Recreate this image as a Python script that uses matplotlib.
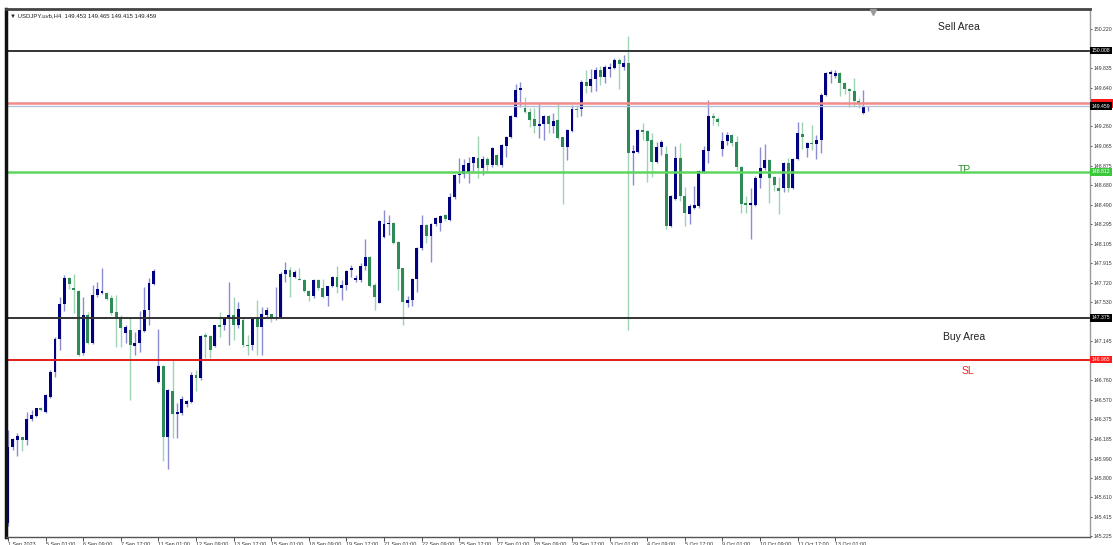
import matplotlib
matplotlib.use("Agg")
import matplotlib.pyplot as plt
import matplotlib.transforms as mtransforms
from matplotlib.patches import Rectangle

plt.rcParams['font.family'] = ['Liberation Sans', 'DejaVu Sans']

# USDJPY H4 candles, 1 Sep 2023 -> 13 Oct 2023
opens = [
    145.35, 146.10, 146.17, 146.20, 146.17, 146.38, 146.41, 146.49, 146.45, 146.60,
    146.84, 147.17, 147.51, 147.77, 147.67, 147.64, 147.03, 147.40, 147.13, 147.60,
    147.62, 147.62, 147.57, 147.43, 147.38, 147.23, 147.26, 147.10, 147.13, 147.25,
    147.45, 147.71, 146.74, 146.90, 146.20, 146.65, 146.43, 146.44, 146.53, 146.55,
    146.81, 146.78, 147.20, 147.20, 147.10, 147.30, 147.30, 147.37, 147.40, 147.30,
    147.35, 147.11, 147.11, 147.37, 147.29, 147.40, 147.41, 147.37, 147.38, 147.81,
    147.85, 147.78, 147.76, 147.75, 147.64, 147.59, 147.75, 147.67, 147.59, 147.69,
    147.78, 147.67, 147.70, 147.85, 147.75, 147.75, 147.89, 147.97, 147.70, 147.52,
    148.17, 148.30, 148.31, 148.12, 147.87, 147.52, 147.55, 147.76, 148.06, 148.29,
    148.18, 148.30, 148.31, 148.39, 148.34, 148.57, 148.78, 148.79, 148.81, 148.90,
    148.95, 148.85, 148.94, 148.88, 148.98, 148.88, 149.07, 149.16, 149.35, 149.62,
    149.44, 149.40, 149.33, 149.26, 149.28, 149.36, 149.26, 149.32, 149.16, 149.06,
    149.22, 149.43, 149.43, 149.70, 149.66, 149.73, 149.82, 149.75, 149.83, 149.84,
    149.91, 149.85, 149.89, 149.00, 149.01, 149.23, 149.22, 149.13, 148.91, 149.06,
    148.99, 148.28, 148.55, 148.95, 148.58, 148.40, 148.46, 148.48, 148.81, 149.02,
    149.36, 149.33, 149.04, 149.12, 149.18, 149.11, 148.86, 148.50, 148.49, 148.49,
    148.75, 148.85, 148.93, 148.76, 148.65, 148.65, 148.90, 148.65, 148.94, 149.19,
    149.05, 149.10, 149.09, 149.13, 149.57, 149.78, 149.76, 149.79, 149.69, 149.63,
    149.61, 149.51, 149.39, 149.453,
]
highs = [
    146.27, 146.19, 146.24, 146.20, 146.45, 146.47, 146.49, 146.50, 146.63, 146.86,
    147.19, 147.58, 147.80, 147.78, 147.81, 147.65, 147.58, 147.43, 147.70, 147.73,
    147.87, 147.63, 147.60, 147.60, 147.40, 147.30, 147.37, 147.24, 147.44, 147.68,
    147.77, 147.86, 147.27, 146.91, 146.67, 146.97, 146.54, 146.61, 146.57, 146.84,
    146.86, 147.21, 147.23, 147.21, 147.30, 147.43, 147.38, 147.73, 147.58, 147.53,
    147.37, 147.21, 147.38, 147.55, 147.48, 147.48, 147.41, 147.68, 147.83, 147.93,
    147.88, 147.85, 147.87, 147.76, 147.65, 147.76, 147.76, 147.76, 147.69, 147.79,
    147.89, 147.75, 147.85, 147.90, 147.80, 147.92, 148.15, 147.98, 147.72, 148.34,
    148.44, 148.39, 148.32, 148.13, 147.87, 147.59, 147.77, 148.07, 148.39, 148.30,
    148.31, 148.37, 148.39, 148.40, 148.60, 148.79, 148.95, 148.94, 148.96, 148.96,
    149.17, 148.97, 148.96, 149.06, 148.99, 149.09, 149.17, 149.37, 149.68, 149.70,
    149.55, 149.44, 149.44, 149.48, 149.37, 149.37, 149.39, 149.49, 149.16, 149.24,
    149.47, 149.47, 149.72, 149.82, 149.83, 149.85, 149.86, 149.87, 149.89, 149.93,
    149.93, 149.96, 150.15, 149.08, 149.24, 149.29, 149.23, 149.20, 149.11, 149.13,
    149.07, 148.59, 149.07, 149.10, 148.66, 148.50, 148.67, 148.83, 149.07, 149.52,
    149.39, 149.35, 149.21, 149.21, 149.19, 149.17, 148.87, 148.58, 148.65, 148.77,
    149.06, 149.09, 148.94, 148.77, 148.76, 148.91, 148.95, 148.95, 149.30, 149.30,
    149.11, 149.27, 149.18, 149.59, 149.80, 149.82, 149.82, 149.80, 149.70, 149.64,
    149.74, 149.54, 149.62, 149.465,
]
lows = [
    145.33, 146.07, 146.01, 146.06, 146.12, 146.36, 146.40, 146.46, 146.44, 146.59,
    146.79, 147.06, 147.44, 147.66, 147.42, 147.00, 147.01, 147.12, 147.12, 147.58,
    147.61, 147.55, 147.40, 147.09, 147.09, 147.13, 146.57, 147.01, 147.04, 147.24,
    147.30, 147.70, 146.73, 145.97, 145.89, 146.19, 146.19, 146.42, 146.50, 146.54,
    146.65, 146.76, 146.98, 146.98, 147.09, 147.19, 147.26, 147.11, 147.16, 147.28,
    147.09, 147.01, 147.06, 147.01, 147.01, 147.38, 147.33, 147.35, 147.37, 147.73,
    147.58, 147.77, 147.75, 147.63, 147.54, 147.57, 147.65, 147.57, 147.49, 147.68,
    147.62, 147.55, 147.65, 147.78, 147.73, 147.73, 147.85, 147.68, 147.45, 147.52,
    148.16, 148.19, 148.10, 147.65, 147.30, 147.48, 147.49, 147.63, 148.04, 148.11,
    147.93, 148.28, 148.23, 148.33, 148.33, 148.55, 148.70, 148.75, 148.70, 148.80,
    148.75, 148.78, 148.80, 148.86, 148.87, 148.86, 148.96, 149.15, 149.35, 149.45,
    149.39, 149.25, 149.20, 149.15, 149.13, 149.20, 149.20, 149.14, 148.50, 148.93,
    149.21, 149.35, 149.36, 149.59, 149.60, 149.61, 149.67, 149.69, 149.75, 149.83,
    149.63, 149.82, 147.26, 148.68, 149.00, 149.13, 148.71, 148.76, 148.90, 148.98,
    148.25, 148.27, 148.54, 148.53, 148.28, 148.30, 148.45, 148.46, 148.80, 148.90,
    149.27, 149.26, 148.97, 149.08, 149.07, 148.83, 148.41, 148.41, 148.15, 148.48,
    148.65, 148.83, 148.51, 148.62, 148.40, 148.61, 148.61, 148.64, 148.93, 149.04,
    148.96, 149.03, 148.94, 149.00, 149.56, 149.69, 149.74, 149.56, 149.58, 149.45,
    149.46, 149.44, 149.38, 149.415,
]
closes = [
    146.10, 146.18, 146.21, 146.17, 146.38, 146.42, 146.49, 146.47, 146.62, 146.84,
    147.17, 147.51, 147.77, 147.71, 147.65, 147.01, 147.40, 147.13, 147.60, 147.66,
    147.64, 147.56, 147.42, 147.38, 147.28, 147.29, 147.11, 147.13, 147.26, 147.45,
    147.72, 147.84, 146.90, 146.20, 146.66, 146.43, 146.45, 146.58, 146.56, 146.81,
    146.78, 147.20, 147.19, 147.06, 147.30, 147.29, 147.37, 147.40, 147.30, 147.46,
    147.11, 147.10, 147.37, 147.29, 147.41, 147.45, 147.37, 147.38, 147.81, 147.85,
    147.78, 147.83, 147.75, 147.64, 147.59, 147.75, 147.67, 147.58, 147.69, 147.78,
    147.68, 147.70, 147.84, 147.86, 147.77, 147.89, 147.97, 147.69, 147.58, 148.33,
    148.30, 148.31, 148.11, 147.86, 147.53, 147.55, 147.76, 148.06, 148.29, 148.18,
    148.30, 148.36, 148.38, 148.35, 148.57, 148.78, 148.79, 148.88, 148.90, 148.96,
    148.85, 148.94, 148.88, 149.05, 148.88, 149.08, 149.16, 149.36, 149.62, 149.64,
    149.40, 149.32, 149.26, 149.28, 149.36, 149.28, 149.31, 149.15, 149.06, 149.23,
    149.43, 149.42, 149.70, 149.66, 149.73, 149.82, 149.75, 149.85, 149.85, 149.91,
    149.88, 149.89, 149.00, 149.02, 149.23, 149.21, 149.12, 148.91, 149.06, 149.11,
    148.28, 148.58, 148.95, 148.58, 148.41, 148.48, 148.49, 148.82, 149.03, 149.36,
    149.34, 149.30, 149.12, 149.18, 149.10, 148.86, 148.50, 148.49, 148.50, 148.75,
    148.85, 148.93, 148.75, 148.68, 148.62, 148.90, 148.65, 148.94, 149.20, 149.16,
    149.10, 149.09, 149.13, 149.57, 149.79, 149.79, 149.79, 149.69, 149.63, 149.61,
    149.51, 149.48, 149.45, 149.459,
]

date_pos = [0, 8, 16, 24, 32, 40, 48, 56, 64, 72, 80, 88, 96, 104, 112, 120,
            128, 136, 144, 152, 160, 168, 176]
date_labels = ["1 Sep 2023", "5 Sep 01:00", "6 Sep 09:00", "7 Sep 17:00",
               "11 Sep 01:00", "12 Sep 09:00", "13 Sep 17:00", "15 Sep 01:00",
               "18 Sep 09:00", "19 Sep 17:00", "21 Sep 01:00", "22 Sep 09:00",
               "25 Sep 17:00", "27 Sep 01:00", "28 Sep 09:00", "29 Sep 17:00",
               "3 Oct 01:00", "4 Oct 09:00", "5 Oct 17:00", "9 Oct 01:00",
               "10 Oct 09:00", "11 Oct 17:00", "13 Oct 01:00"]
# ticks hidden behind the coloured price boxes are left out
price_ticks = [150.220, 149.835, 149.640, 149.260, 149.065,
               148.875, 148.680, 148.490, 148.295, 148.105, 147.915, 147.720,
               147.530, 147.145, 146.760, 146.570, 146.375,
               146.185, 145.990, 145.800, 145.610, 145.415, 145.225]

sell_area = 150.008
red_line = 149.490
bid = 149.459
tp = 148.812
buy_area = 147.375
sl = 146.965

fig = plt.figure(figsize=(11.13, 5.45), dpi=100)
ax = fig.add_axes([6/1113, 8/545, 1084/1113, 528/545])

n = len(opens)
x = list(range(n))
up = [c >= o for o, c in zip(opens, closes)]
wick_cols = ['#8c8cd2' if u else '#9fd3b3' for u in up]
body_cols = ['#000080' if u else '#2e8b57' for u in up]
bottoms = [min(o, c) for o, c in zip(opens, closes)]
heights = [max(abs(c - o), 0.012) for o, c in zip(opens, closes)]

ax.vlines(x, lows, highs, colors=wick_cols, lw=1, zorder=2)
ax.bar(x, heights, bottom=bottoms, width=0.62, color=body_cols, linewidth=0, zorder=3)

# horizontal objects
ax.axhline(sell_area, color='#333333', lw=1.4, zorder=4)
ax.axhline(red_line, color='#f28a8a', lw=1.8, zorder=4)
ax.axhline(bid, color='#b4c2d8', lw=1.0, zorder=4)
ax.axhline(tp, color='#5ed65e', lw=1.8, zorder=4)
ax.axhline(buy_area, color='#333333', lw=1.4, zorder=4)
ax.axhline(sl, color='#e21b1b', lw=1.4, zorder=4)

ax.text(202.3, 150.24, "Sell Area", fontsize=7.5, color='#222222', ha='center', va='center')
ax.text(203.4, 148.83, "TP", fontsize=7.5, color='#2f8f2f', ha='center', va='center')
ax.text(203.4, 147.19, "Buy Area", fontsize=7.5, color='#222222', ha='center', va='center')
ax.text(204.3, 146.85, "SL", fontsize=7.5, color='#ee2222', ha='center', va='center')

ax.set_xlim(-0.43, 230.2)
ax.set_ylim(145.217, 150.417)

# axes look
for side in ['top', 'bottom', 'left', 'right']:
    ax.spines[side].set_zorder(6)
ax.spines['top'].set_color('#444444')
ax.spines['top'].set_linewidth(2)
ax.spines['left'].set_color('#111111')
ax.spines['left'].set_linewidth(2.5)
ax.spines['right'].set_color('#9a9a9a')
ax.spines['right'].set_linewidth(1)
ax.spines['bottom'].set_color('#555555')
ax.spines['bottom'].set_linewidth(1)

ax.yaxis.tick_right()
ax.set_yticks(price_ticks)
ax.set_yticklabels(["%.3f" % v for v in price_ticks])
ax.tick_params(axis='y', labelsize=3.7, length=1.5, pad=1, colors='#333333', width=0.6)
ax.set_xticks(date_pos)
ax.set_xticklabels(date_labels)
ax.tick_params(axis='x', labelsize=3.9, length=3, pad=0.5, colors='#333333', width=0.6)
for lbl in ax.get_xticklabels():
    lbl.set_ha('left')

# price labels on the right scale
trans = mtransforms.blended_transform_factory(ax.transAxes, ax.transData)
# red line marker sits just above the bid label, only its top edge shows
ax.add_patch(Rectangle((1.001, red_line - 0.045), 0.02, 0.09, transform=trans,
                       facecolor='#ff1a1a', edgecolor='none', clip_on=False, zorder=9))
boxes = [(sell_area, 'black'), (bid, 'black'),
         (tp, '#3cc83c'), (buy_area, 'black'), (sl, '#ff1a1a')]
for val, col in boxes:
    ax.text(1.0015, val, "%.3f" % val, transform=trans, fontsize=3.7, color='white',
            ha='left', va='center', clip_on=False, zorder=10,
            bbox=dict(boxstyle='square,pad=0.25', fc=col, ec='none'))

# chart shift marker
ax.plot([184], [0.994], marker='v', color='#9a9a9a', markersize=4,
        transform=mtransforms.blended_transform_factory(ax.transData, ax.transAxes),
        clip_on=False, zorder=7)

fig.text(10/1113, 1 - 16/545, "\u25bc USDJPY.uvb,H4  149.453 149.465 149.415 149.459",
         fontsize=4.3, color='#222222', va='center', ha='left')

fig.savefig("out.png", dpi=100, facecolor='white')
